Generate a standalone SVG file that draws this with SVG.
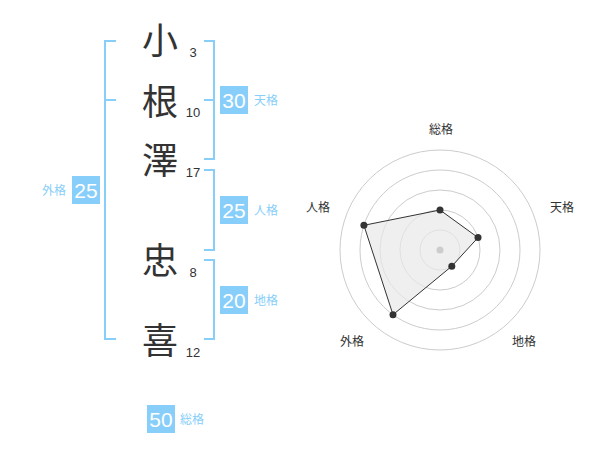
<svg xmlns="http://www.w3.org/2000/svg" width="600" height="470" viewBox="0 0 600 470">
<style>
.br{fill:none;stroke:#87cefa;stroke-width:2}
.box{fill:#87cefa}
.bn{font-family:"Liberation Sans",Arial,sans-serif;font-size:21px;fill:#fff;text-anchor:middle}
.lb{font-family:"Noto Sans CJK JP","Noto Sans CJK SC",sans-serif;font-size:12px;fill:#87cefa}
.ch{font-family:"Noto Sans CJK JP","Noto Sans CJK SC",sans-serif;font-size:36px;fill:#333;text-anchor:middle}
.nm{font-family:"Liberation Sans",Arial,sans-serif;font-size:13px;fill:#333;text-anchor:middle}
.rl{font-family:"Noto Sans CJK JP","Noto Sans CJK SC",sans-serif;font-size:12px;fill:#333;text-anchor:middle}
.ring{fill:none;stroke:#ccc;stroke-width:1}
.pt{fill:#333}
</style>
<rect width="600" height="470" fill="#fff"/>
<g id="connectors">
<path class="br" d="M116,41 H105 V339 H116 M105,100 H116"/>
<path class="br" d="M204,41 H214 V159 H204 M214,100 H204"/>
<path class="br" d="M204,170 H214 V250 H204"/>
<path class="br" d="M204,260 H214 V339 H204"/>
</g>
<g id="chars">
<text class="ch" x="160" y="54">小</text>
<text class="ch" x="160" y="115">根</text>
<text class="ch" x="160" y="174">澤</text>
<text class="ch" x="160" y="274">忠</text>
<text class="ch" x="160" y="354">喜</text>
<text class="nm" x="193" y="57">3</text>
<text class="nm" x="193" y="117">10</text>
<text class="nm" x="193" y="177">17</text>
<text class="nm" x="193" y="277">8</text>
<text class="nm" x="193" y="357">12</text>
</g>
<g id="tenkaku">
<rect class="box" x="220" y="86" width="28" height="28"/>
<text class="bn" x="234" y="108">30</text>
<text class="lb" x="254" y="105">天格</text>
</g>
<g id="jinkaku">
<rect class="box" x="220" y="196" width="28" height="28"/>
<text class="bn" x="234" y="218">25</text>
<text class="lb" x="254" y="215">人格</text>
</g>
<g id="chikaku">
<rect class="box" x="220" y="286" width="28" height="28"/>
<text class="bn" x="234" y="308">20</text>
<text class="lb" x="254" y="305">地格</text>
</g>
<g id="gaikaku">
<rect class="box" x="72" y="176" width="28" height="28"/>
<text class="bn" x="86" y="198">25</text>
<text class="lb" x="66" y="195" text-anchor="end">外格</text>
</g>
<g id="soukaku">
<rect class="box" x="147" y="405" width="28" height="28"/>
<text class="bn" x="161" y="427">50</text>
<text class="lb" x="180" y="424">総格</text>
</g>
<g id="radar">
<circle class="ring" cx="440" cy="250" r="20"/>
<circle class="ring" cx="440" cy="250" r="40"/>
<circle class="ring" cx="440" cy="250" r="60"/>
<circle class="ring" cx="440" cy="250" r="80"/>
<circle class="ring" cx="440" cy="250" r="100"/>
<polygon points="440,210 478,237.6 451.8,266.2 393,314.7 363.9,225.3" fill="#e8e8e8" fill-opacity="0.7" stroke="#333" stroke-width="1"/>
<circle cx="440" cy="250" r="3.5" fill="#ccc"/>
<circle class="pt" cx="440" cy="210" r="3.5"/>
<circle class="pt" cx="478" cy="237.6" r="3.5"/>
<circle class="pt" cx="451.8" cy="266.2" r="3.5"/>
<circle class="pt" cx="393" cy="314.7" r="3.5"/>
<circle class="pt" cx="363.9" cy="225.3" r="3.5"/>
<text class="rl" x="441" y="134">総格</text>
<text class="rl" x="562" y="212">天格</text>
<text class="rl" x="524" y="346">地格</text>
<text class="rl" x="352" y="346">外格</text>
<text class="rl" x="318" y="212">人格</text>
</g>
</svg>
